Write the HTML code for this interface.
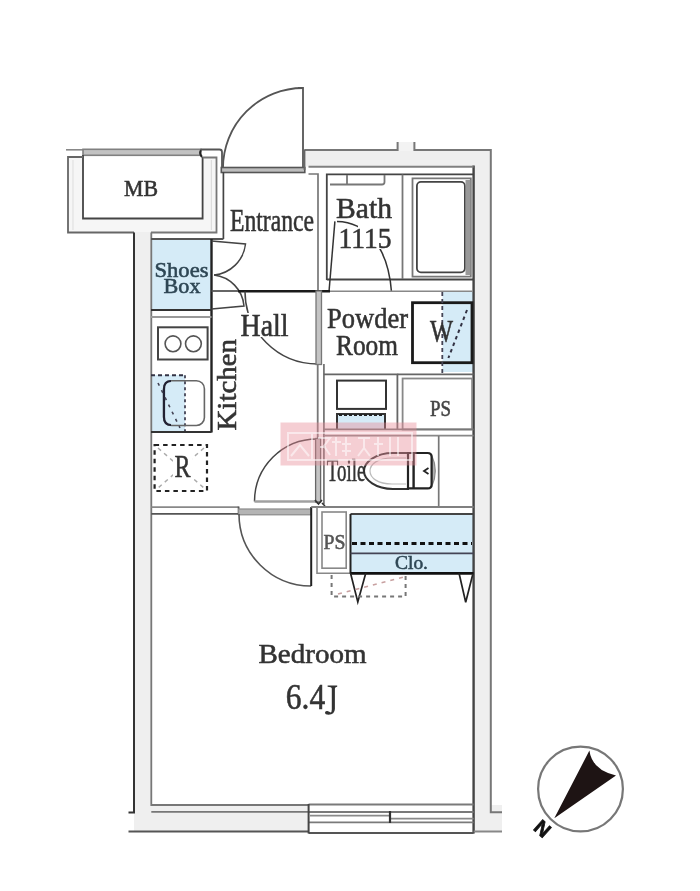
<!DOCTYPE html>
<html><head><meta charset="utf-8"><title>Floor plan</title>
<style>
html,body{margin:0;padding:0;background:#fff;}
body{width:700px;height:891px;overflow:hidden;}
svg{display:block;filter:blur(0.4px);}
text{font-family:"Liberation Serif",serif;fill:#333;stroke:#333;stroke-width:0.55px;}
</style></head><body>
<svg width="700" height="891" viewBox="0 0 700 891">
<rect width="700" height="891" fill="#fff"/>

<!-- ============ WALL FILLS ============ -->
<g fill="#efefef" stroke="none">
  <path d="M68,157 H83 V218.5 H203 V157 H216.5 V232.5 H68 Z" fill="#f6f6f6"/>
  <rect x="134" y="232" width="17" height="580"/>
  <rect x="134" y="805" width="175" height="26"/>
  <rect x="474" y="150" width="16.5" height="662"/>
  <rect x="474" y="805" width="28" height="26"/>
  <rect x="305" y="150" width="186" height="16.5"/>
  <rect x="397.6" y="142" width="16.8" height="9" fill="#f3f3f3"/>
</g>

<!-- ============ BLUE FILLS ============ -->
<g fill="#d5ebf7" stroke="none">
  <rect x="151" y="239.5" width="60" height="70.5"/>
  <rect x="151" y="375" width="34" height="56.5"/>
  <rect x="442.5" y="292" width="30.5" height="80"/>
  <rect x="337" y="414" width="48" height="15"/>
  <rect x="350.5" y="514" width="122.5" height="59"/>
</g>

<!-- ============ MB ============ -->
<g fill="none" stroke="#6e6e6e" stroke-width="1.8">
  <path d="M66,149.8 H84" stroke="#888" stroke-width="1.6"/>
  <rect x="83" y="149.3" width="117.7" height="6" fill="#c2c2c2" stroke="#808080" stroke-width="1.6"/>
  <path d="M201,150 Q199,153.5 202,157" stroke="#222" stroke-width="2"/>
  <path d="M200.5,149.5 H219.5 Q222,149.5 222,152 V168" stroke="#555"/>
  <path d="M83,155 V218.5 H202.6 V157" stroke="#444"/>
  <path d="M83,157 H68 V232.5 H134" stroke="#666"/>
  <path d="M202.6,157.5 H216.5 V232.5 H151" stroke="#777"/>
  <path d="M211.4,160 V230" stroke="#ddd" stroke-width="1.2"/>
  <path d="M73,160 V230" stroke="#e2e2e2" stroke-width="1.2"/>
</g>
<text x="124" y="196" font-size="22.3" textLength="34" lengthAdjust="spacingAndGlyphs">MB</text>

<!-- ============ ENTRANCE DOOR ============ -->
<g fill="none" stroke="#555" stroke-width="1.8">
  <path d="M223,168 A80,80 0 0 1 303,88"/>
  <path d="M298,88 H303 V169"/>
  <rect x="221.3" y="167.5" width="83.5" height="5" fill="#bdbdbd" stroke="#555" stroke-width="1.6"/>
</g>

<!-- ============ OUTER WALL LINES ============ -->
<g fill="none" stroke-linecap="butt">
  <path d="M134,232.5 V812.5 H128.5" stroke="#333" stroke-width="2"/>
  <path d="M151.3,232.5 V805 H308.5" stroke="#777" stroke-width="1.8"/>
  <path d="M151.3,811.8 H308.5" stroke="#777" stroke-width="1.8"/>
  <path d="M128.5,831.5 H309" stroke="#555" stroke-width="2"/>
  <path d="M473.6,165.5 V833.5" stroke="#444" stroke-width="2.4"/>
  <path d="M304.5,150 H397.6 V142 M414.4,142 V150 H490.8 V812.3 H502" stroke="#777" stroke-width="2"/>
  <path d="M473.6,831.5 H502" stroke="#888" stroke-width="2"/>
  <path d="M308.5,166.8 H473.6" stroke="#808080" stroke-width="2"/>
  <path d="M304.5,149.5 V170" stroke="#666" stroke-width="1.8"/>
</g>

<!-- ============ WINDOW ============ -->
<g fill="none" stroke="#7a7a7a" stroke-width="1.8">
  <path d="M308.6,804.5 H473.6"/>
  <path d="M308.6,812 H473.6"/>
  <path d="M310,815.6 H390" stroke="#8a8a8a"/>
  <path d="M390,818.6 H473.6" stroke="#8a8a8a"/>
  <path d="M308.6,822.4 H473.6"/>
  <path d="M308.6,833 H473.6" stroke="#555" stroke-width="2.2"/>
  <path d="M308.6,804 V833.5" stroke="#444" stroke-width="2"/>
  <path d="M390,811 V823" stroke="#333" stroke-width="2.2"/>
</g>

<!-- ============ ENTRANCE / BATH ============ -->
<g fill="none" stroke="#777" stroke-width="1.7">
  <path d="M223.4,172 V239" stroke="#444"/>
  <path d="M308.5,174 H318 V290"/>
</g>
<text x="230" y="231" font-size="31" textLength="84" lengthAdjust="spacingAndGlyphs">Entrance</text>

<!-- bath unit -->
<g fill="none" stroke="#555" stroke-width="1.8">
  <path d="M326.8,280 V174.3 H473.6" stroke="#444"/>
  <path d="M326.8,279.4 H473.6" stroke="#444" stroke-width="2"/>
  <path d="M402.5,174.5 V279" stroke="#777"/>
  <path d="M330,184.5 H382 Q384.5,184.5 384.5,182 V175" stroke="#777"/>
  <path d="M347,175 V185" stroke="#777"/>
  <path d="M412.5,178.3 H470.8 V276.7 H412.5 Z" stroke="#777"/>
  <rect x="416.9" y="181.9" width="48" height="90.4" rx="4" stroke="#444"/>
  <path d="M468,180 V275" stroke="#999" stroke-width="5"/>
</g>
<g fill="none" stroke="#333" stroke-width="1.5">
  <path d="M334.9,221.4 L329.1,290.5"/>
  <path d="M337,221.5 C365,222 388,245 391.5,292"/>
</g>
<text x="336" y="218.3" font-size="29.5" textLength="56" lengthAdjust="spacingAndGlyphs">Bath</text>
<rect x="358" y="226" width="24" height="23" fill="#fff"/>
<text x="338.5" y="248" font-size="28.5" textLength="53" lengthAdjust="spacingAndGlyphs">1115</text>

<!-- ============ SHOES BOX / HALL ============ -->
<g fill="none" stroke="#333" stroke-width="1.8">
  <path d="M151,239 H223.4" stroke="#555"/>
  <path d="M211.5,239 V432.5" stroke="#222" stroke-width="2.4"/>
  <path d="M151,310 H211.5" stroke="#333" stroke-width="2"/>
  <path d="M151,317 H211.5" stroke="#999" stroke-width="1.8"/>
  <path d="M211.5,241 L245.5,244 A35,35 0 0 1 214,275" stroke="#444" stroke-width="1.5"/>
  <path d="M211.5,309 L244,306 A34,34 0 0 0 214,275" stroke="#444" stroke-width="1.5"/>
  <path d="M211.5,291 H240" stroke="#555" stroke-width="1.8"/>
  <path d="M238,291.3 H330" stroke="#1a1a1a" stroke-width="2.6"/>
  <path d="M330,291.3 H473" stroke="#888" stroke-width="1.6"/>
</g>
<text x="154.5" y="277.4" font-size="22" textLength="54" lengthAdjust="spacingAndGlyphs" style="fill:#2e4654;stroke:#2e4654">Shoes</text>
<text x="163.5" y="293" font-size="22" textLength="37" lengthAdjust="spacingAndGlyphs" style="fill:#2e4654;stroke:#2e4654">Box</text>

<!-- powder door -->
<g fill="none">
  <path d="M245,291.5 A72.7,72.7 0 0 0 317.7,364" stroke="#444" stroke-width="1.5"/>
  <rect x="316" y="291" width="5.5" height="73.5" fill="#c4c4c4" stroke="#777" stroke-width="1.3"/>
  <path d="M317.7,364 V504 M323.9,364 V504" stroke="#777" stroke-width="1.8"/>
</g>
<rect x="241" y="313" width="48" height="24" fill="#fff"/>
<text x="240.5" y="336" font-size="30.5" textLength="48" lengthAdjust="spacingAndGlyphs">Hall</text>

<!-- ============ POWDER ROOM ============ -->
<text x="327" y="328" font-size="29" textLength="81" lengthAdjust="spacingAndGlyphs">Powder</text>
<text x="336" y="355" font-size="30" textLength="62" lengthAdjust="spacingAndGlyphs">Room</text>
<g fill="none">
  <rect x="412.5" y="302.7" width="59.5" height="60" stroke="#1a1a1a" stroke-width="2.8"/>
  <path d="M442.3,292 V373" stroke="#445" stroke-width="1.8" stroke-dasharray="4,3"/>
  <path d="M467,310 L448.4,358" stroke="#334" stroke-width="2" stroke-dasharray="3.5,3.5"/>
</g>
<text x="430" y="342" font-size="31" textLength="23" lengthAdjust="spacingAndGlyphs">W</text>

<!-- vanity + PS -->
<g fill="none" stroke="#666" stroke-width="1.8">
  <path d="M323.9,374.4 H397.4 V429.4"/>
  <path d="M397.4,374.4 H473.6"/>
  <rect x="402.6" y="378.5" width="69.5" height="51" stroke="#888"/>
  <rect x="337" y="380.6" width="49" height="28.3" stroke="#333" stroke-width="2"/>
  <path d="M337,429 V414 H385 V429" stroke="#333" stroke-width="2"/>
  <path d="M339,415 H383" stroke="#222" stroke-width="2" stroke-dasharray="3,2"/>
  <path d="M323.9,429.4 H473.6" stroke="#777"/>
  <path d="M323.9,435.6 H473.6" stroke="#888"/>
</g>
<text x="430" y="416" font-size="22.5" textLength="21" lengthAdjust="spacingAndGlyphs" style="fill:#444;stroke:#444">PS</text>

<!-- ============ TOILET ============ -->
<g fill="none">
  <path d="M438.7,436 V506" stroke="#777" stroke-width="1.7"/>
  <path d="M254.5,501.5 A62.5,62.5 0 0 1 317,439" stroke="#444" stroke-width="1.5"/>
  <path d="M254.5,501.5 H316" stroke="#a0a0a0" stroke-width="2.4"/>
  <rect x="315.6" y="438.5" width="5" height="63.5" fill="#c4c4c4" stroke="#666" stroke-width="1.3"/>
  <path d="M315,500 L318.5,504 L322,500 M322,503 L325,506" stroke="#333" stroke-width="1.6"/>
</g>
<text x="326.8" y="480.8" font-size="31" textLength="38.5" lengthAdjust="spacingAndGlyphs">Toile</text>
<g fill="none" stroke="#333" stroke-width="2">
  <path d="M409,453 H393 C376,453 364,462 364,471 C364,480 376,489 393,489 H409" fill="#fff"/>
  <path d="M406,458 H392 C378,458 370,464 370,471 C370,478 378,484 392,484 H406" stroke="#bbb" stroke-width="1.2"/>
  <path d="M431.6,455 Q439,471 431.6,487 Z" fill="#b0b0b0" stroke="#888" stroke-width="1.2"/>
  <path d="M408,453 H427.6 Q431.6,453 431.6,457 V484.4 Q431.6,488.4 427.6,488.4 H408 Z" fill="#fff" stroke="#222" stroke-width="2.2"/>
  <path d="M413.6,453.5 V488" stroke="#222" stroke-width="2.4"/>
  <path d="M428.5,468 L424,471 L428.5,474" stroke="#222" stroke-width="1.8"/>
</g>

<!-- ============ KITCHEN ============ -->
<g fill="none">
  <path d="M151,432 H211.5" stroke="#333" stroke-width="2"/>
  <rect x="158" y="327.3" width="49.6" height="32.2" stroke="#444" stroke-width="2"/>
  <circle cx="173" cy="343.8" r="7.9" stroke="#555" stroke-width="1.6"/>
  <circle cx="193.4" cy="343.8" r="7.9" stroke="#555" stroke-width="1.6"/>
  <path d="M151,375.3 H185" stroke="#334" stroke-width="2" stroke-dasharray="4,3"/>
  <path d="M185,375.3 V431" stroke="#445" stroke-width="1.8" stroke-dasharray="3,3"/>
  <rect x="163.6" y="380.7" width="40.8" height="44.8" rx="8" stroke="#666" stroke-width="1.6"/>
  <path d="M171,381 Q164,381 164,389 V417 Q164,425 171,425" stroke="#223" stroke-width="2.2"/>
  <path d="M158,383 L180,428" stroke="#445" stroke-width="1.6" stroke-dasharray="3,5"/>
</g>
<text transform="translate(235.5,430.5) rotate(-90)" x="0" y="0" font-size="28" textLength="91.5" lengthAdjust="spacingAndGlyphs">Kitchen</text>

<!-- fridge -->
<g fill="none">
  <rect x="154.6" y="445" width="52.4" height="46" stroke="#222" stroke-width="2.2" stroke-dasharray="4.5,4"/>
  <path d="M158,448 L204,488 M204,448 L158,488" stroke="#aaa" stroke-width="1.4" stroke-dasharray="4,4"/>
</g>
<rect x="173" y="455" width="19" height="23" fill="#fff"/>
<text x="174.6" y="476.8" font-size="30.5" textLength="16" lengthAdjust="spacingAndGlyphs">R</text>

<!-- ============ BEDROOM WALL / DOOR ============ -->
<g fill="none">
  <path d="M151.3,507.2 H238.6" stroke="#888" stroke-width="1.8"/>
  <path d="M151.3,513.8 H238.6" stroke="#555" stroke-width="1.8"/>
  <path d="M238.6,506.5 V515" stroke="#555" stroke-width="1.8"/>
  <rect x="238.6" y="509" width="72.6" height="5.8" fill="#b4b4b4" stroke="#8a8a8a" stroke-width="1.2"/>
  <path d="M239,514 A72,72 0 0 0 311.2,586" stroke="#555" stroke-width="1.6"/>
  <path d="M311.2,507 V586" stroke="#222" stroke-width="2"/>
</g>

<!-- ============ PS lower / CLO ============ -->
<g fill="none">
  <path d="M311.2,507 H473.6" stroke="#808080" stroke-width="1.8"/>
  <path d="M317,507 V573.3 H350.5" stroke="#888" stroke-width="1.6"/>
  <rect x="322" y="512" width="24.2" height="56.2" stroke="#888" stroke-width="1.6"/>
  <path d="M350.5,514 H473.6" stroke="#444" stroke-width="2"/>
  <path d="M350.5,514 V573.3" stroke="#222" stroke-width="2"/>
  <path d="M352,543.5 H472" stroke="#111" stroke-width="2.8" stroke-dasharray="5,3.5"/>
  <path d="M350.5,553.3 H473.6" stroke="#445" stroke-width="1.8"/>
  <path d="M350.5,573.3 H473.6" stroke="#111" stroke-width="2.8"/>
  <path d="M350.5,573 L357.8,602 L365.8,573" stroke="#222" stroke-width="1.7"/>
  <path d="M459,573 L465.7,602.3 L472.6,575" stroke="#222" stroke-width="1.7"/>
  <path d="M331.6,575 V596.5 H405.6 V575" stroke="#777" stroke-width="2" stroke-dasharray="4,4"/>
  <path d="M338,594 L404,577" stroke="#c8a0a0" stroke-width="1.6" stroke-dasharray="4,5"/>
</g>
<text x="323.5" y="549.3" font-size="21" textLength="22" lengthAdjust="spacingAndGlyphs" style="fill:#555;stroke:#555">PS</text>
<text x="395" y="569" font-size="19.5" textLength="33" lengthAdjust="spacingAndGlyphs" style="fill:#2e4654;stroke:#2e4654">Clo.</text>

<!-- ============ BEDROOM TEXT ============ -->
<text x="258.5" y="663.2" font-size="27.8" textLength="108" lengthAdjust="spacingAndGlyphs">Bedroom</text>
<text x="285.8" y="709.3" font-size="35" textLength="39.4" lengthAdjust="spacingAndGlyphs">6.4</text>
<g fill="#333" stroke="none">
  <path d="M327.6,685.4 H337.2 V686.8 Q335.2,687 334.9,688.6 V709 Q334.6,714.6 328.6,714.8 Q325,714.8 325,712.6 Q325.2,710.6 327.4,711 Q329.6,711.6 330.6,712.6 Q331.8,712.2 331.8,709.6 V688.6 Q331.5,687 327.6,686.8 Z"/>
</g>

<!-- ============ WATERMARK ============ -->
<g>
  <rect x="280.5" y="422.5" width="136" height="43" fill="#e88a96" opacity="0.42"/>
  <g fill="none" stroke="#fff" stroke-width="2" opacity="0.55">
    <rect x="288" y="433" width="124" height="27"/>
    <path d="M312,433 V460"/>
    <path d="M291,456 L300,445 L309,456"/>
    <path d="M318,438 h12 l-6,8 l6,9 M320,447 h6"/>
    <path d="M336,437 v19 M332,442 h9 M346,437 v19 M342,444 h9 M342,451 h9"/>
    <path d="M358,438 h12 M364,438 v10 l-6,8 M364,448 l6,8"/>
    <path d="M378,437 v19 M374,444 h9 M390,437 v19 M398,437 v19"/>
  </g>
</g>

<!-- ============ COMPASS ============ -->
<circle cx="580.5" cy="789" r="42.4" fill="none" stroke="#777" stroke-width="2.2"/>
<path d="M554.3,818.3 L589.4,750.6 Q592,770 616,775.4 Z" fill="#1e1414"/>
<text transform="translate(541.5,830) rotate(42)" x="0" y="0" font-size="20" font-weight="bold" text-anchor="middle" dominant-baseline="middle" style="font-family:'Liberation Sans',sans-serif;fill:#111;stroke:#111;stroke-width:0.8px">N</text>

</svg>
</body></html>
